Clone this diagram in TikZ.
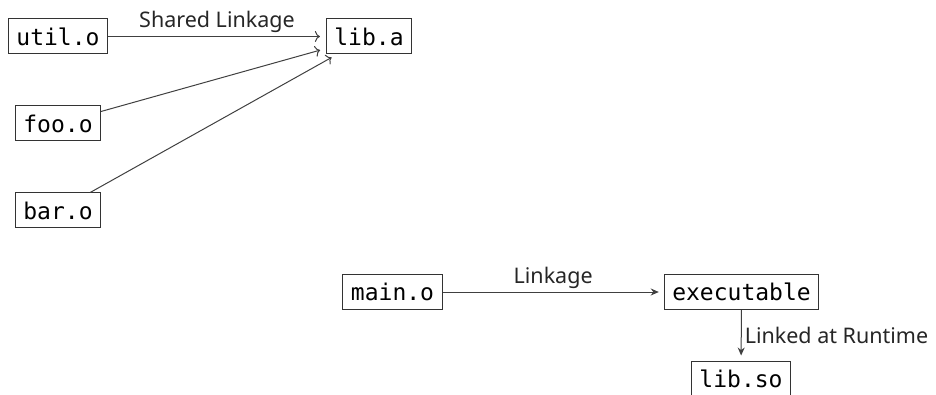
\documentclass[tikz,border=0pt]{standalone}
\usepackage{fontspec}
\setmainfont{Noto Sans}
\setmonofont{DejaVu Sans Mono}
\usetikzlibrary{arrows.meta}
\tikzset{
  file node/.style={
    draw=black!80,
    line width=1pt,
    fill=white,
    font=\ttfamily\fontsize{23}{26}\selectfont,
    inner xsep=8pt,
    inner ysep=0pt,
    minimum height=35pt,
  },
  edge label/.style={
    font=\fontsize{21.5}{24}\selectfont,
    text=black!85,
    inner sep=2pt,
  },
  static link/.style={
    draw=black!75,
    line width=1pt,
    -{To[length=5pt,width=11pt]},
    shorten >=6pt,
  },
  dynamic link/.style={
    draw=black!75,
    line width=1pt,
    -{Stealth[length=8pt,width=7pt]},
    shorten >=5pt,
  },
}

\begin{document}
\begin{tikzpicture}[x=1pt, y=-1pt]
        \useasboundingbox (0,0) rectangle (936,395);

        \node[file node] (util)   at (58,36.5)    {util.o};
        \node[file node] (liba)   at (369,36.5)   {lib.a};
        \node[file node] (foo)    at (58,123.5)   {foo.o};
        \node[file node] (bar)    at (58,210.5)   {bar.o};
        \node[file node] (main)   at (392.5,292)  {main.o};
        \node[file node] (exe)    at (741.5,292)  {executable};
        \node[file node] (libso)  at (741,378.5)  {lib.so};

        \draw[static link]  (util) -- node[edge label, above=1pt] {Shared Linkage} (liba);
        \draw[static link]  (foo)  -- (liba);
        \draw[static link]  (bar)  -- (liba);

        \draw[dynamic link] (main) -- node[edge label, above=1pt] {Linkage} (exe);
        \draw[dynamic link] (exe)  -- node[edge label, right=1pt] {Linked at Runtime} (libso);
      \end{tikzpicture}
\end{document}
